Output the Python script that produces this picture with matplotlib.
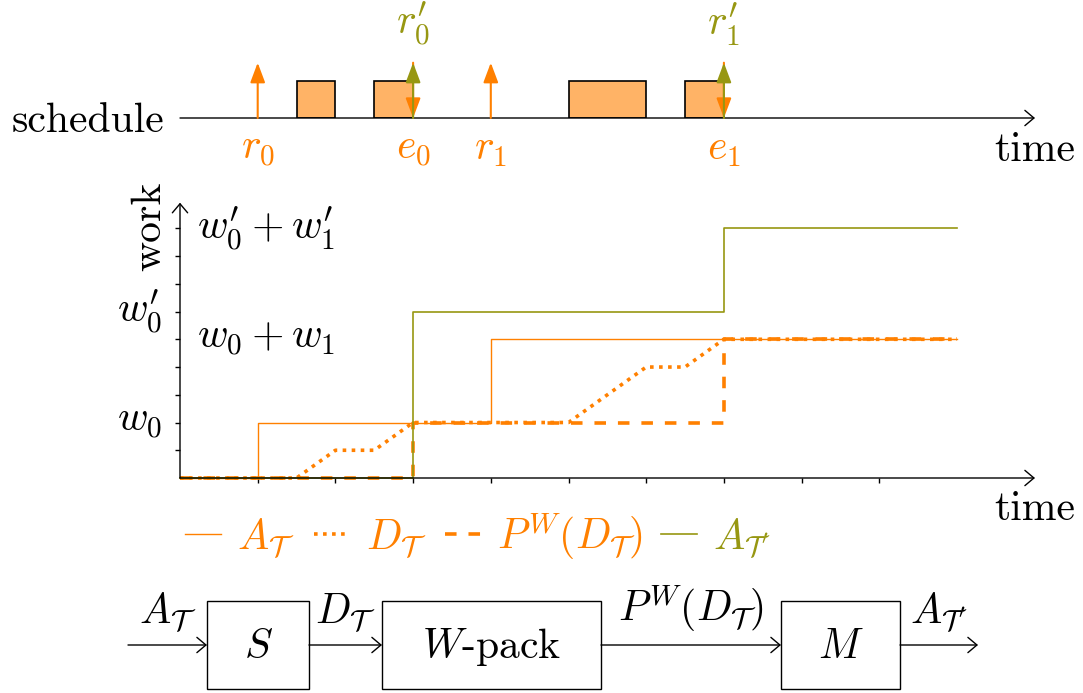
import numpy as np
import matplotlib.pyplot as plt
from matplotlib.patches import Rectangle

plt.rcParams['font.family'] = 'cmr10'
plt.rcParams['mathtext.fontset'] = 'cm'
plt.rcParams['axes.unicode_minus'] = False

ORANGE = '#ff8000'
OLIVE = '#979712'
FILL = '#ffb366'
FS = 30

# --- schedule row ---
releases = [1, 4]
release_labels = [r'$r_0$', r'$r_1$']
ends = [3, 7]
end_labels = [r'$e_0$', r'$e_1$']
new_release_labels = [r'$r_0^{\prime}$', r'$r_1^{\prime}$']
job_start = [1.5, 2.5, 5, 6.5]
job_len = [0.5, 0.5, 1, 0.5]

# --- cumulative work curves ---
t_arr = [0, 1, 4, 10]
arrivals = [0, 2, 5, 5]
t_dep = [0, 1.5, 2, 2.5, 3, 5, 6, 6.5, 7, 10]
departures = [0, 0, 1, 1, 2, 2, 4, 4, 5, 5]
t_pack = [0, 3, 7, 10]
packed = [0, 2, 5, 5]
t_out = [0, 3, 7, 10]
out_arrivals = [0, 6, 9, 9]

left_ticks = [2, 6]
left_labels = [r'$w_0$', r'$w_0^{\prime}$']
right_ticks = [5, 9]
right_labels = [r'$w_0+w_1$', r'$w_0^{\prime}+w_1^{\prime}$']

# --- block diagram ---
blocks = [r'$S$', r'$W$-pack', r'$M$']
block_x = [(207, 309), (382, 601), (781, 900)]
signals = [r'$A_{\mathcal{T}}$', r'$D_{\mathcal{T}}$',
           r'$P^{W}(D_{\mathcal{T}})$', r'$A_{\mathcal{T}^{\prime}}$']

W, H = 1083, 693
X0, UX = 180, 77.7          # pixel of t=0, pixels per time unit
TMAX = (1035 - X0) / UX

fig = plt.figure(figsize=(W / 100, H / 100), dpi=100)

# full-figure canvas for the block diagram
axd = fig.add_axes([0, 0, 1, 1])
axd.set_xlim(0, W)
axd.set_ylim(H, 0)
axd.axis('off')

# schedule axes
Y_SCH, UY_SCH = 118, 37.3
axs = fig.add_axes([X0 / W, (H - Y_SCH) / H, (TMAX * UX) / W, Y_SCH / H])
axs.set_xlim(0, TMAX)
axs.set_ylim(0, Y_SCH / UY_SCH)
axs.axis('off')
axs.patch.set_alpha(0)

# work axes
Y_MID, UY_MID = 478, 27.74
YMAX = (Y_MID - 202.7) / UY_MID
axm = fig.add_axes([X0 / W, (H - Y_MID) / H, (TMAX * UX) / W, YMAX * UY_MID / H])
axm.set_xlim(0, TMAX)
axm.set_ylim(0, YMAX)
axm.patch.set_alpha(0)
for sp in axm.spines.values():
    sp.set_visible(False)

axis_arrow = dict(arrowstyle='->,head_length=0.65,head_width=0.55', lw=1.0,
                  color='black', shrinkA=0, shrinkB=0, mutation_scale=10)

# ---- schedule ----
axs.annotate('', xy=(TMAX, 0), xytext=(0, 0), arrowprops=axis_arrow,
             annotation_clip=False)
axs.bar(job_start, 1, width=job_len, align='edge', color=FILL,
        edgecolor='black', lw=1.2, zorder=2)

up_h = 55.3 / UY_SCH
head = '-|>,head_length=0.8,head_width=0.3'
for t, lab in zip(releases, release_labels):
    axs.annotate('', xy=(t, up_h), xytext=(t, 0),
                 arrowprops=dict(arrowstyle=head, color=ORANGE, lw=1.5,
                                 shrinkA=0, shrinkB=0, mutation_scale=15))
    axs.text(t, -0.35, lab, color=ORANGE, fontsize=FS, ha='center', va='top')
for t, lab, lab2 in zip(ends, end_labels, new_release_labels):
    axs.annotate('', xy=(t, 0), xytext=(t, up_h),
                 arrowprops=dict(arrowstyle=head, color=ORANGE, lw=1.5,
                                 shrinkA=0, shrinkB=0, mutation_scale=15),
                 zorder=3)
    axs.annotate('', xy=(t, up_h), xytext=(t, 0),
                 arrowprops=dict(arrowstyle=head, color=OLIVE, lw=1.5,
                                 shrinkA=0, shrinkB=0, mutation_scale=15),
                 zorder=4)
    axs.text(t, -0.35, lab, color=ORANGE, fontsize=FS, ha='center', va='top')
    axs.text(t, 1.88, lab2, color=OLIVE, fontsize=FS, ha='center', va='bottom')

axs.text(-0.2, -0.38, 'schedule', fontsize=FS, ha='right', va='baseline')
axs.text(TMAX, -0.35, 'time', fontsize=FS, ha='center', va='top')

# ---- work curves ----
axm.annotate('', xy=(TMAX, 0), xytext=(0, 0), arrowprops=axis_arrow,
             annotation_clip=False)
axm.annotate('', xy=(0, YMAX), xytext=(0, 0), arrowprops=axis_arrow,
             annotation_clip=False)
axm.set_xticks(range(1, 10))
axm.set_yticks(range(1, 10))
axm.tick_params(direction='out', length=3.8, width=1.0, labelbottom=False,
                labelleft=False)

axm.plot(t_arr, arrivals, drawstyle='steps-post', color=ORANGE, lw=1.0,
         label=signals[0], clip_on=False)
axm.plot(t_dep, departures, color=ORANGE, lw=2.6, ls=(0, (1, 1.5)),
         dash_capstyle='butt', label=signals[1], clip_on=False)
axm.plot(t_pack, packed, drawstyle='steps-post', color=ORANGE, lw=2.6,
         ls=(0, (3.2, 3.3)), label=signals[2], clip_on=False)
axm.plot(t_out, out_arrivals, drawstyle='steps-post', color=OLIVE, lw=1.2,
         label=signals[3], clip_on=False)

for v, lab in zip(left_ticks, left_labels):
    axm.text(-0.23, v, lab, fontsize=FS, ha='right', va='center')
for v, lab in zip(right_ticks, right_labels):
    axm.text(0.22, v, lab, fontsize=FS, ha='left', va='center')
axm.text(-0.386, 9.08, 'work', fontsize=FS, rotation=90, ha='center',
         va='center')
axm.text(TMAX, -0.47, 'time', fontsize=FS, ha='center', va='top')

axm.legend(loc='center', bbox_to_anchor=(478 / W, (H - 536) / H),
           bbox_transform=fig.transFigure, ncol=4, frameon=False,
           fontsize=FS, handlelength=0.85, handletextpad=0.4,
           columnspacing=0.45, labelcolor='linecolor', borderpad=0,
           borderaxespad=0)

# ---- block diagram ----
YB, BT, BB = 645, 601, 689
starts = [128] + [x1 for _, x1 in block_x]
stops = [x0 for x0, _ in block_x] + [978]
for (x0, x1), lab in zip(block_x, blocks):
    axd.add_patch(Rectangle((x0, BT), x1 - x0, BB - BT, fill=False,
                            lw=1.0, ec='black'))
    axd.text((x0 + x1) / 2, 658, lab, fontsize=FS, ha='center',
             va='baseline')
for a, b, lab in zip(starts, stops, signals):
    axd.annotate('', xy=(b, YB), xytext=(a, YB), arrowprops=axis_arrow)
    axd.text((a + b) / 2, 634, lab, fontsize=FS, ha='center', va='bottom')

fig.savefig('out.png', dpi=100)
